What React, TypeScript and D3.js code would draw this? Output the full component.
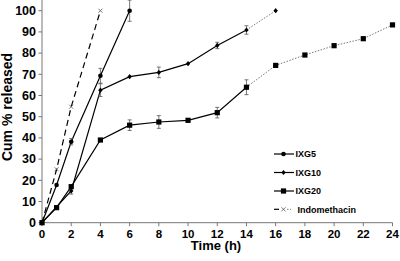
import React from "react";
import * as d3 from "d3";

const W = 400;
const H = 261;

const timeIXG5 = [0, 1, 2, 4, 6];
const valIXG5 = [0, 17.8, 38.2, 69.3, 100];
const errIXG5 = [0, 0, 1.5, 3.5, 5];

const timeIXG10 = [0, 2, 4, 6, 8, 10, 12, 14];
const valIXG10 = [0, 15, 62.5, 68.9, 70.9, 75, 83.6, 90.9];
const errIXG10 = [0, 1.5, 3, 0, 2.5, 0, 1.5, 2];
const timeIXG10ext = [14, 16];
const valIXG10ext = [90.9, 100];

const timeIXG20 = [0, 1, 2, 4, 6, 8, 10, 12, 14];
const valIXG20 = [0, 7.1, 17, 39, 46, 47.5, 48.3, 51.9, 63.9];
const errIXG20 = [0, 0, 0, 0, 2.5, 3, 0.8, 2.5, 3.5];
const timeIXG20ext = [14, 16, 18, 20, 22, 24];
const valIXG20ext = [63.9, 74.2, 79.1, 83.5, 86.8, 93.3];

const timeIndo = [0, 1, 2, 4];
const valIndo = [0, 25.2, 54.7, 100];

const xTicks = [0, 2, 4, 6, 8, 10, 12, 14, 16, 18, 20, 22, 24];
const yTicks = [0, 10, 20, 30, 40, 50, 60, 70, 80, 90, 100];
const legendLabels = ["IXG5", "IXG10", "IXG20", "Indomethacin"];

const FONT = "'Liberation Sans', Arial, sans-serif";

export default function App() {
  const x = d3.scaleLinear().domain([0, 24]).range([42, 392.5]);
  const y = d3.scaleLinear().domain([0, 105]).range([222.7, 0.1]);
  const line = d3
    .line<[number, number]>()
    .x((d) => x(d[0]))
    .y((d) => y(d[1]));
  const pts = (t: number[], v: number[]) => t.map((ti, i) => [ti, v[i]] as [number, number]);

  const errorBars = (t: number[], v: number[], e: number[], key: string) =>
    t.map((ti, i) =>
      e[i] > 0 ? (
        <g key={key + i} stroke="#555" strokeWidth={0.8}>
          <line x1={x(ti)} x2={x(ti)} y1={y(v[i] - e[i])} y2={y(v[i] + e[i])} />
          <line x1={x(ti) - 2} x2={x(ti) + 2} y1={y(v[i] - e[i])} y2={y(v[i] - e[i])} />
          <line x1={x(ti) - 2} x2={x(ti) + 2} y1={y(v[i] + e[i])} y2={y(v[i] + e[i])} />
        </g>
      ) : null
    );

  const circle = (cx: number, cy: number, k: string) => (
    <circle key={k} cx={cx} cy={cy} r={2.3} fill="#000" />
  );
  const diamond = (cx: number, cy: number, k: string) => (
    <path key={k} d={`M${cx},${cy - 2.6}L${cx + 2.2},${cy}L${cx},${cy + 2.6}L${cx - 2.2},${cy}Z`} fill="#000" />
  );
  const square = (cx: number, cy: number, k: string) => (
    <rect key={k} x={cx - 2.6} y={cy - 2.6} width={5.2} height={5.2} fill="#000" />
  );
  const cross = (cx: number, cy: number, k: string) => (
    <g key={k} stroke="#555" strokeWidth={0.8}>
      <line x1={cx - 2} x2={cx + 2} y1={cy - 2} y2={cy + 2} />
      <line x1={cx - 2} x2={cx + 2} y1={cy + 2} y2={cy - 2} />
    </g>
  );

  const legendY = [154, 172.5, 191, 209.3];
  const legendMarkers = [circle, diamond, square, cross];

  return (
    <svg width={W} height={H} style={{ position: "absolute", left: 0, top: 0 }} fontFamily={FONT}>
      <rect width={W} height={H} fill="#fff" />
      {/* axes */}
      <line x1={x(0)} x2={x(24)} y1={y(0)} y2={y(0)} stroke="#777" strokeWidth={1} />
      <line x1={x(0)} x2={x(0)} y1={y(0)} y2={0} stroke="#777" strokeWidth={1} />
      {xTicks.map((t) => (
        <g key={"xt" + t}>
          <line x1={x(t)} x2={x(t)} y1={y(0)} y2={y(0) + 3.5} stroke="#777" />
          <text x={x(t)} y={237.5} textAnchor="middle" fontSize={11.5} fontWeight="bold">
            {t}
          </text>
        </g>
      ))}
      {yTicks.map((t) => (
        <g key={"yt" + t}>
          <line x1={x(0) - 3.5} x2={x(0)} y1={y(t)} y2={y(t)} stroke="#777" />
          <text x={36} y={y(t) + 4.3} textAnchor="end" fontSize={12.5} fontWeight="bold">
            {t}
          </text>
        </g>
      ))}
      <text x={216} y={250} textAnchor="middle" fontSize={13} fontWeight="bold">
        Time (h)
      </text>
      <text
        transform={`translate(11.5,107) rotate(-90)`}
        textAnchor="middle"
        fontSize={14}
        fontWeight="bold"
      >
        Cum % released
      </text>

      {/* dotted extensions */}
      <path d={line(pts(timeIXG10ext, valIXG10ext)) || ""} fill="none" stroke="#777" strokeWidth={1} strokeDasharray="1.5,1.5" />
      <path d={line(pts(timeIXG20ext, valIXG20ext)) || ""} fill="none" stroke="#777" strokeWidth={1} strokeDasharray="1.5,1.5" />

      {/* main lines */}
      <path d={line(pts(timeIndo, valIndo)) || ""} fill="none" stroke="#000" strokeWidth={1.2} strokeDasharray="6,4" />
      <path d={line(pts(timeIXG5, valIXG5)) || ""} fill="none" stroke="#000" strokeWidth={1.2} />
      <path d={line(pts(timeIXG10, valIXG10)) || ""} fill="none" stroke="#000" strokeWidth={1.2} />
      <path d={line(pts(timeIXG20, valIXG20)) || ""} fill="none" stroke="#000" strokeWidth={1.2} />

      {errorBars(timeIXG5, valIXG5, errIXG5, "e5")}
      {errorBars(timeIXG10, valIXG10, errIXG10, "e10")}
      {errorBars(timeIXG20, valIXG20, errIXG20, "e20")}

      {timeIndo.map((t, i) => cross(x(t), y(valIndo[i]), "mi" + i))}
      {timeIXG5.map((t, i) => circle(x(t), y(valIXG5[i]), "m5" + i))}
      {timeIXG10.map((t, i) => diamond(x(t), y(valIXG10[i]), "m10" + i))}
      {timeIXG10ext.slice(1).map((t, i) => diamond(x(t), y(valIXG10ext[i + 1]), "m10e" + i))}
      {timeIXG20.map((t, i) => square(x(t), y(valIXG20[i]), "m20" + i))}
      {timeIXG20ext.slice(1).map((t, i) => square(x(t), y(valIXG20ext[i + 1]), "m20e" + i))}

      {/* legend */}
      {legendLabels.map((lab, i) => (
        <g key={"lg" + i}>
          {i < 3 ? (
            <line x1={274} x2={294} y1={legendY[i]} y2={legendY[i]} stroke="#000" strokeWidth={1.2} />
          ) : (
            <g>
              <line x1={274} x2={279} y1={legendY[i]} y2={legendY[i]} stroke="#000" strokeWidth={1.2} />
              <line x1={287} x2={291} y1={legendY[i]} y2={legendY[i]} stroke="#777" strokeWidth={1} strokeDasharray="1.5,1.5" />
            </g>
          )}
          {legendMarkers[i](283.5, legendY[i], "lm" + i)}
          <text x={i < 3 ? 295.5 : 297.5} y={legendY[i] + 3.2} fontSize={9} fontWeight="bold">
            {lab}
          </text>
        </g>
      ))}
    </svg>
  );
}
